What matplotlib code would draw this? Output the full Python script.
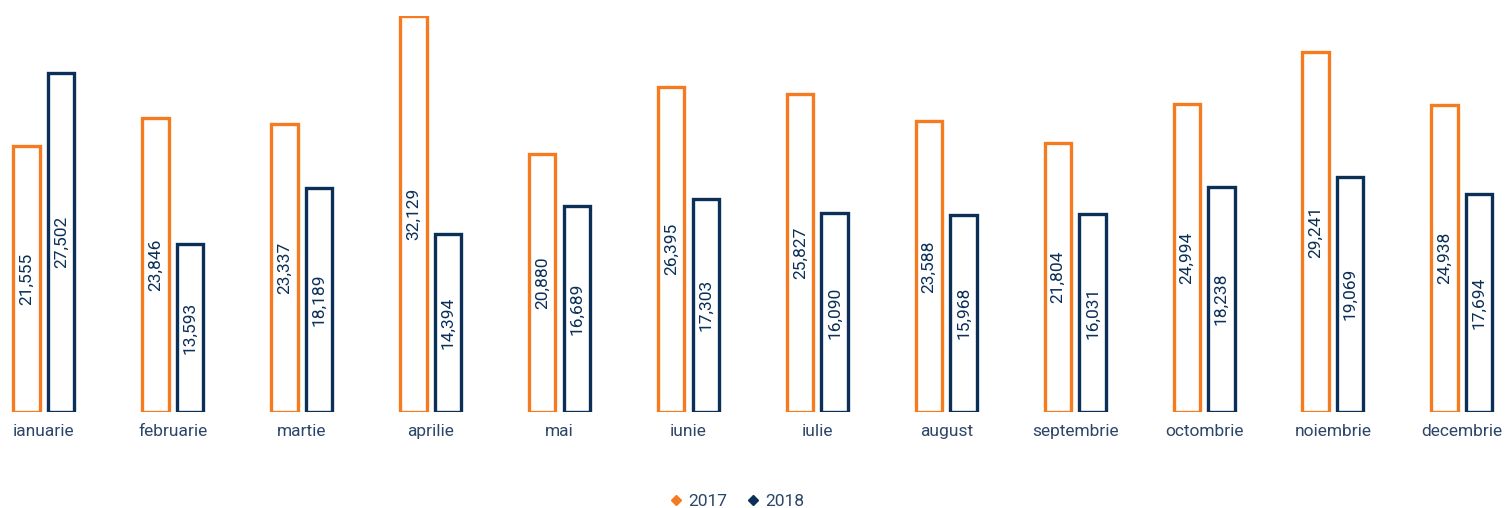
import matplotlib
matplotlib.use("Agg")
import matplotlib.pyplot as plt
import numpy as np
from matplotlib.lines import Line2D

months = ["ianuarie", "februarie", "martie", "aprilie", "mai", "iunie", "iulie",
          "august", "septembrie", "octombrie", "noiembrie", "decembrie"]
v2017 = [21555, 23846, 23337, 32129, 20880, 26395, 25827, 23588, 21804, 24994, 29241, 24938]
v2018 = [27502, 13593, 18189, 14394, 16689, 17303, 16090, 15968, 16031, 18238, 19069, 17694]
series_names = ["2017", "2018"]

orange = "#f47b20"
navy = "#0b2f57"
txt = "#2b4668"

plt.rcParams['font.family'] = ['Roboto', 'DejaVu Sans']

W, H = 1508, 508
fig = plt.figure(figsize=(W/100, H/100), dpi=100)
ax = fig.add_axes([0, 1 - 411.5/H, 1, (411.5 - 16)/H])
x = np.arange(len(months))
bw = 0.205
off = 0.134
b1 = ax.bar(x - off, v2017, bw, facecolor="white", edgecolor=orange, linewidth=2.4)
b2 = ax.bar(x + off, v2018, bw, facecolor="white", edgecolor=navy, linewidth=2.4)
for bars, vals in ((b1, v2017), (b2, v2018)):
    for r, v in zip(bars, vals):
        ax.text(r.get_x() + r.get_width()/2, v/2, f"{v:,}", rotation=90,
                ha="center", va="center", color=navy, fontsize=12.5)
ax.set_xlim(-0.341, 11.358)
ax.set_ylim(0, 32129)
for s in ax.spines.values():
    s.set_visible(False)
ax.set_yticks([])
ax.set_xticks(x)
ax.set_xticklabels(months, fontsize=12.5, color=txt)
ax.tick_params(axis='x', length=0, pad=9)

handles = [Line2D([], [], marker='D', linestyle='none', color=c, markersize=5.5)
           for c in (orange, navy)]
fig.legend(handles, series_names, loc='center', bbox_to_anchor=(735/W, 1 - 501/H),
           ncol=2, frameon=False, handletextpad=0.1, columnspacing=0.9,
           handlelength=1.2, labelcolor=txt, prop={'size': 12.5})
fig.savefig("out.png", dpi=100)
